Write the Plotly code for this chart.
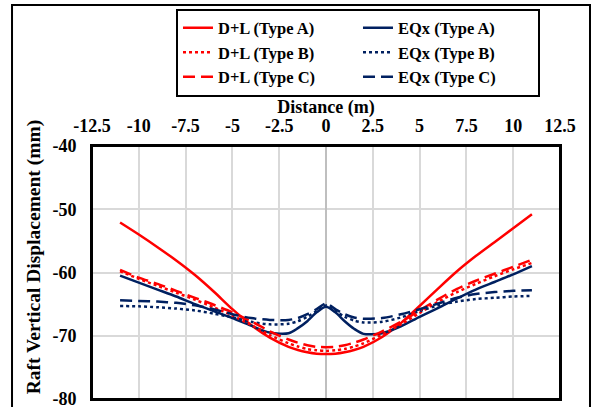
import plotly.graph_objects as go

# ---------------- data ----------------
distance_m = [-11, -10, -9, -8, -7, -6, -5, -4, -3, -2, -1.5, -1, -0.5, 0,
              0.5, 1, 1.5, 2, 3, 4, 5, 6, 7, 8, 9, 10, 11]

dl_type_a = [-52.1, -54.0, -56.0, -58.1, -60.4, -63.0, -65.8, -68.3, -70.3, -71.75, -72.25, -72.6, -72.83, -72.9,
             -72.83, -72.6, -72.25, -71.75, -70.2, -68.0, -65.3, -62.5, -59.8, -57.4, -55.2, -53.0, -50.8]
dl_type_b = [-59.8, -61.0, -62.1, -63.2, -64.3, -65.5, -66.8, -68.3, -69.9, -71.2, -71.7, -72.1, -72.3, -72.4,
             -72.3, -72.1, -71.7, -71.2, -69.8, -68.2, -66.4, -64.6, -63.1, -61.8, -60.6, -59.5, -58.5]
dl_type_c = [-59.6, -60.8, -61.8, -62.9, -64.0, -65.1, -66.3, -67.7, -69.3, -70.6, -71.1, -71.5, -71.75, -71.8,
             -71.75, -71.5, -71.1, -70.6, -69.3, -67.8, -66.0, -64.2, -62.6, -61.3, -60.2, -59.1, -58.0]
eqx_type_a = [-60.5, -61.6, -62.7, -63.8, -65.0, -66.1, -67.2, -68.4, -69.5, -69.6, -68.8, -67.7, -66.3, -65.4,
              -66.3, -67.7, -68.9, -69.7, -69.6, -68.5, -67.0, -65.6, -64.1, -62.7, -61.5, -60.3, -59.0]
eqx_type_b = [-65.3, -65.35, -65.5, -65.7, -66.0, -66.5, -67.1, -67.8, -68.2, -68.1, -67.7, -67.0, -66.1, -65.2,
              -66.1, -67.0, -67.6, -67.9, -67.8, -67.1, -66.1, -65.2, -64.6, -64.2, -64.0, -63.8, -63.7]
eqx_type_c = [-64.4, -64.5, -64.6, -64.8, -65.2, -65.8, -66.6, -67.2, -67.5, -67.5, -67.2, -66.6, -65.8, -64.9,
              -65.8, -66.6, -67.1, -67.3, -67.2, -66.6, -65.8, -64.9, -64.0, -63.4, -63.1, -62.9, -62.8]

series_names = ["D+L (Type A)", "EQx (Type A)", "D+L (Type B)", "EQx (Type B)", "D+L (Type C)", "EQx (Type C)"]

x_tick_vals = [-12.5, -10, -7.5, -5, -2.5, 0, 2.5, 5, 7.5, 10, 12.5]
x_tick_text = ["-12.5", "-10", "-7.5", "-5", "-2.5", "0", "2.5", "5", "7.5", "10", "12.5"]
y_tick_vals = [-80, -70, -60, -50, -40]
y_tick_text = ["-80", "-70", "-60", "-50", "-40"]
x_title = "Distance (m)"
y_title = "Raft Vertical Displacement (mm)"

# ---------------- styles ----------------
RED = "#ff0000"
NAVY = "#002060"
FONT = "Liberation Serif, Times New Roman, Tinos, serif"
series_values = [dl_type_a, eqx_type_a, dl_type_b, eqx_type_b, dl_type_c, eqx_type_c]
colors = [RED, NAVY, RED, NAVY, RED, NAVY]
dashes = ["solid", "solid", "dot", "dot", "12px,6px", "12px,6px"]


def f(size):
    return dict(family=FONT, size=size, color="black", weight="bold")


fig = go.Figure()
for name, vals, c, d in zip(series_names, series_values, colors, dashes):
    fig.add_trace(go.Scatter(
        x=distance_m, y=vals, name=name, mode="lines",
        line=dict(color=c, width=2.5, dash=d, shape="spline", smoothing=0.8),
    ))

fig.update_layout(
    width=599, height=407,
    margin=dict(l=92, r=39, t=146, b=8, autoexpand=False),
    paper_bgcolor="white", plot_bgcolor="white",
    font=f(18),
    showlegend=True,
    legend=dict(
        orientation="h", xref="container", yref="container",
        x=0.2938, y=0.979, xanchor="left", yanchor="top",
        entrywidth=135, entrywidthmode="pixels",
        bordercolor="black", borderwidth=2, bgcolor="white",
        font=f(16.5), tracegroupgap=0,
    ),
    xaxis=dict(
        side="top", range=[-12.5, 12.5], automargin=False,
        tickvals=x_tick_vals, ticktext=x_tick_text,
        showgrid=True, gridcolor="#d9d9d9", gridwidth=2,
        zeroline=True, zerolinecolor="#bfbfbf", zerolinewidth=2,
        showline=True, linecolor="black", linewidth=2, mirror=True,
        ticks="", tickfont=f(18), ticklabelstandoff=5,
        title=dict(text=x_title, standoff=7, font=f(18)),
    ),
    yaxis=dict(
        range=[-80, -40], automargin=False,
        tickvals=y_tick_vals, ticktext=y_tick_text,
        showgrid=True, gridcolor="#d9d9d9", gridwidth=2,
        zeroline=False, ticklabeloverflow="allow",
        showline=True, linecolor="black", linewidth=2, mirror=True,
        ticks="", tickfont=f(18), ticklabelstandoff=10,
    ),
    annotations=[dict(text=y_title, textangle=-90, xref="paper", yref="paper",
                      x=-0.1239, y=0.56, xanchor="center", yanchor="middle",
                      showarrow=False, font=f(19.5))],
    shapes=[
        dict(type="rect", xref="paper", yref="paper", x0=0, x1=1, y0=0, y1=1,
             line=dict(color="black", width=2), fillcolor="rgba(0,0,0,0)", layer="above"),
        dict(type="rect", xref="paper", yref="paper",
             x0=-0.1709, x1=1.0641, y0=-0.2, y1=1.5573,
             line=dict(color="black", width=2), fillcolor="rgba(0,0,0,0)", layer="above"),
    ],
)

fig.write_html("out.html")
